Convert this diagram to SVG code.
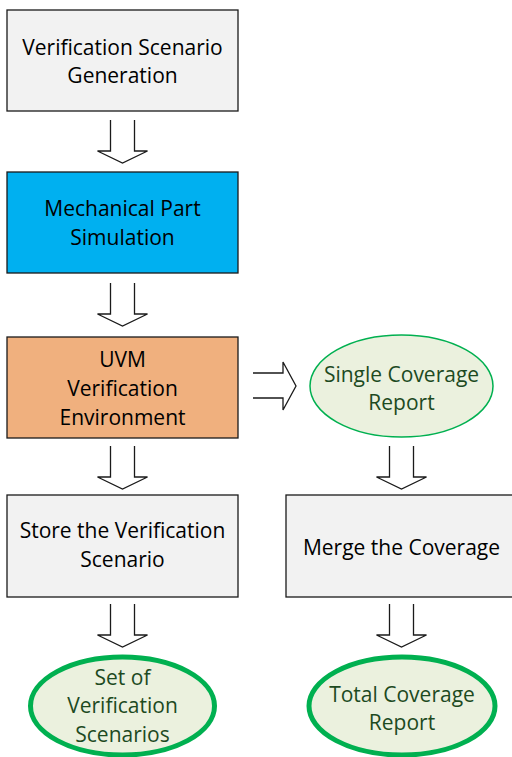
<svg xmlns="http://www.w3.org/2000/svg" width="512" height="757" viewBox="0 0 512 757">
  <style>
    .box { stroke: #1a1a1a; stroke-width: 1.3; }
    .gray { fill: #f2f2f2; }
    .blue { fill: #00b0f0; }
    .orange { fill: #f0b07e; }
    .oval { fill: #ebf1de; stroke: #00b050; }
    .thin { stroke-width: 1.5; }
    .thick { stroke-width: 5; }
    .arrow { fill: none; stroke: #1a1a1a; stroke-width: 1.3; stroke-linejoin: miter; }
    text { font-family: "Open Sans", "Liberation Sans", sans-serif; font-size: 21px; text-anchor: middle; }
    .dark { fill: #000; }
    .green { fill: #1d4a1f; }
  </style>
  <defs>
    <!-- hollow block arrow pointing down; origin = top centre -->
    <path id="down" d="M -12 0 V 31 H -25 L 0 43 L 25 31 H 12 V 0"/>
  </defs>

  <g id="connectors" class="arrow">
    <use href="#down" x="122.5" y="120"/>
    <use href="#down" x="122.5" y="283"/>
    <use href="#down" x="122.5" y="446"/>
    <use href="#down" x="122.5" y="604"/>
    <use href="#down" x="401.5" y="446"/>
    <use href="#down" x="401.5" y="604"/>
    <path d="M 253 373 H 283 V 362 L 296 386 L 283 410 V 398 H 253"/>
  </g>

  <g id="scenario-generation">
    <rect class="box gray" x="7" y="10" width="231" height="101"/>
    <text class="dark" x="122.5" y="55">Verification Scenario</text>
    <text class="dark" x="122.5" y="83">Generation</text>
  </g>

  <g id="mechanical-simulation">
    <rect class="box blue" x="7" y="172" width="231" height="101"/>
    <text class="dark" x="122.5" y="216">Mechanical Part</text>
    <text class="dark" x="122.5" y="245">Simulation</text>
  </g>

  <g id="uvm-environment">
    <rect class="box orange" x="7" y="337" width="231" height="101"/>
    <text class="dark" x="122.5" y="367">UVM</text>
    <text class="dark" x="122.5" y="396">Verification</text>
    <text class="dark" x="122.5" y="425">Environment</text>
  </g>

  <g id="single-coverage">
    <ellipse class="oval thin" cx="401.5" cy="386" rx="91.5" ry="51"/>
    <text class="green" x="401.5" y="382">Single Coverage</text>
    <text class="green" x="401.5" y="410">Report</text>
  </g>

  <g id="store-scenario">
    <rect class="box gray" x="7" y="495" width="231" height="102"/>
    <text class="dark" x="122.5" y="538">Store the Verification</text>
    <text class="dark" x="122.5" y="567">Scenario</text>
  </g>

  <g id="merge-coverage">
    <rect class="box gray" x="286" y="495" width="232" height="102"/>
    <text class="dark" x="401.5" y="555">Merge the Coverage</text>
  </g>

  <g id="verification-set">
    <ellipse class="oval thick" cx="122.5" cy="706" rx="92" ry="49"/>
    <text class="green" x="122.5" y="685">Set of</text>
    <text class="green" x="122.5" y="713">Verification</text>
    <text class="green" x="122.5" y="742">Scenarios</text>
  </g>

  <g id="total-coverage">
    <ellipse class="oval thick" cx="402" cy="706" rx="93" ry="49"/>
    <text class="green" x="402" y="702">Total Coverage</text>
    <text class="green" x="402" y="730">Report</text>
  </g>
</svg>
